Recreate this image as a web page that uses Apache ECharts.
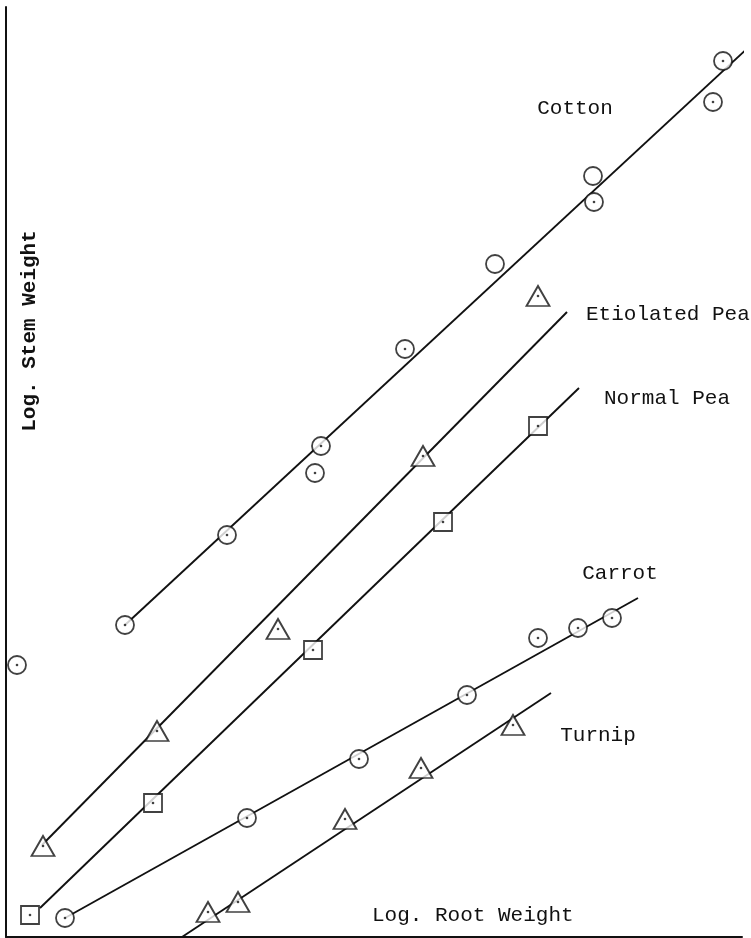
<!DOCTYPE html>
<html>
<head>
<meta charset="utf-8">
<script src="https://cdn.jsdelivr.net/npm/echarts@6/dist/echarts.min.js"></script>
<style>html,body{margin:0;padding:0;background:#fff;}#c{width:751px;height:938px;}</style>
</head>
<body>
<div id="c"></div>
<script>
// Axis extents (arbitrary log units)
var xMax = 7.36;
var yMax = 9.30;

// Cotton (circles)
var cottonPoints = [[1.19,3.12],[2.21,4.02],[3.15,4.91],[3.09,4.64],[3.99,5.88],[4.89,6.73],[5.87,7.61],[5.88,7.35],[7.07,8.35],[7.17,8.76],[0.11,2.72]];
var cottonNoDot = [5,6];
var cottonLine = [[1.19,3.12],[7.45,8.92]];

// Etiolated Pea (triangles)
var etioPoints = [[0.37,0.91],[1.51,2.06],[2.72,3.08],[4.17,4.81],[5.32,6.41]];
var etioLine = [[0.36,0.92],[5.61,6.25]];

// Normal Pea (squares)
var normalPoints = [[0.24,0.22],[1.47,1.34],[3.07,2.87],[4.37,4.15],[5.32,5.11]];
var normalLine = [[0.34,0.29],[5.73,5.49]];

// Carrot (circles)
var carrotPoints = [[0.59,0.19],[2.41,1.19],[3.53,1.78],[4.61,2.42],[5.32,2.99],[5.72,3.09],[6.06,3.19]];
var carrotLine = [[0.59,0.19],[6.32,3.39]];

// Turnip (triangles)
var turnipPoints = [[2.02,0.25],[2.32,0.35],[3.39,1.18],[4.15,1.69],[5.07,2.12]];
var turnipLine = [[1.76,0.00],[5.45,2.44]];

// Labels
var seriesLabels = ['Cotton','Etiolated Pea','Normal Pea','Carrot','Turnip'];
var xAxisTitle = 'Log. Root Weight';
var yAxisTitle = 'Log. Stem Weight';

var ink = '#111';
var font = '"Liberation Mono", "DejaVu Sans Mono", monospace';

function lineSeries(d){
  return {type:'line', data:d, symbol:'none', clip:false, silent:true, z:2,
    lineStyle:{color:ink, width:1.9}};
}
function markSeries(d, sym, size){
  return {type:'scatter', data:d, symbol:sym, symbolSize:size, clip:false, silent:true, z:3,
    itemStyle:{color:'#fff', borderColor:ink, borderWidth:1.8}};
}
function dotSeries(d){
  return {type:'scatter', data:d, symbol:'circle', symbolSize:2.6, clip:false, silent:true, z:4,
    itemStyle:{color:ink}};
}
var cottonDots = cottonPoints.filter(function(p,i){return cottonNoDot.indexOf(i)<0;});

var chart = echarts.init(document.getElementById('c'), null, {renderer:'canvas'});
chart.setOption({
  animation:false,
  backgroundColor:'#fff',
  grid:{left:6, right:9, top:7, bottom:1},
  xAxis:{type:'value', min:0, max:xMax, axisLine:{show:true, onZero:false, lineStyle:{color:ink, width:2}},
    axisTick:{show:false}, axisLabel:{show:false}, splitLine:{show:false}},
  yAxis:{type:'value', min:0, max:yMax, axisLine:{show:true, onZero:false, lineStyle:{color:ink, width:2}},
    axisTick:{show:false}, axisLabel:{show:false}, splitLine:{show:false}},
  series:[
    lineSeries(cottonLine), lineSeries(etioLine), lineSeries(normalLine), lineSeries(carrotLine), lineSeries(turnipLine),
    markSeries(cottonPoints,'circle',18),
    markSeries(etioPoints,'triangle',[23,20]),
    markSeries(normalPoints,'rect',18),
    markSeries(carrotPoints,'circle',18),
    markSeries(turnipPoints,'triangle',[23,20]),
    dotSeries(cottonDots), dotSeries(etioPoints), dotSeries(normalPoints), dotSeries(carrotPoints), dotSeries(turnipPoints)
  ],
  graphic:[
    {type:'text', x:575, y:108, style:{text:seriesLabels[0], font:'21px '+font, fill:ink, textAlign:'center', textVerticalAlign:'middle'}},
    {type:'text', x:586, y:314, style:{text:seriesLabels[1], font:'21px '+font, fill:ink, textAlign:'left', textVerticalAlign:'middle'}},
    {type:'text', x:667, y:398, style:{text:seriesLabels[2], font:'21px '+font, fill:ink, textAlign:'center', textVerticalAlign:'middle'}},
    {type:'text', x:620, y:573, style:{text:seriesLabels[3], font:'21px '+font, fill:ink, textAlign:'center', textVerticalAlign:'middle'}},
    {type:'text', x:598, y:735, style:{text:seriesLabels[4], font:'21px '+font, fill:ink, textAlign:'center', textVerticalAlign:'middle'}},
    {type:'text', x:372, y:915, style:{text:xAxisTitle, font:'21px '+font, fill:ink, textAlign:'left', textVerticalAlign:'middle'}},
    {type:'text', x:30, y:331, rotation:Math.PI/2, style:{text:yAxisTitle, font:'bold 21px '+font, fill:ink, textAlign:'center', textVerticalAlign:'middle'}}
  ]
});
</script>
</body>
</html>
